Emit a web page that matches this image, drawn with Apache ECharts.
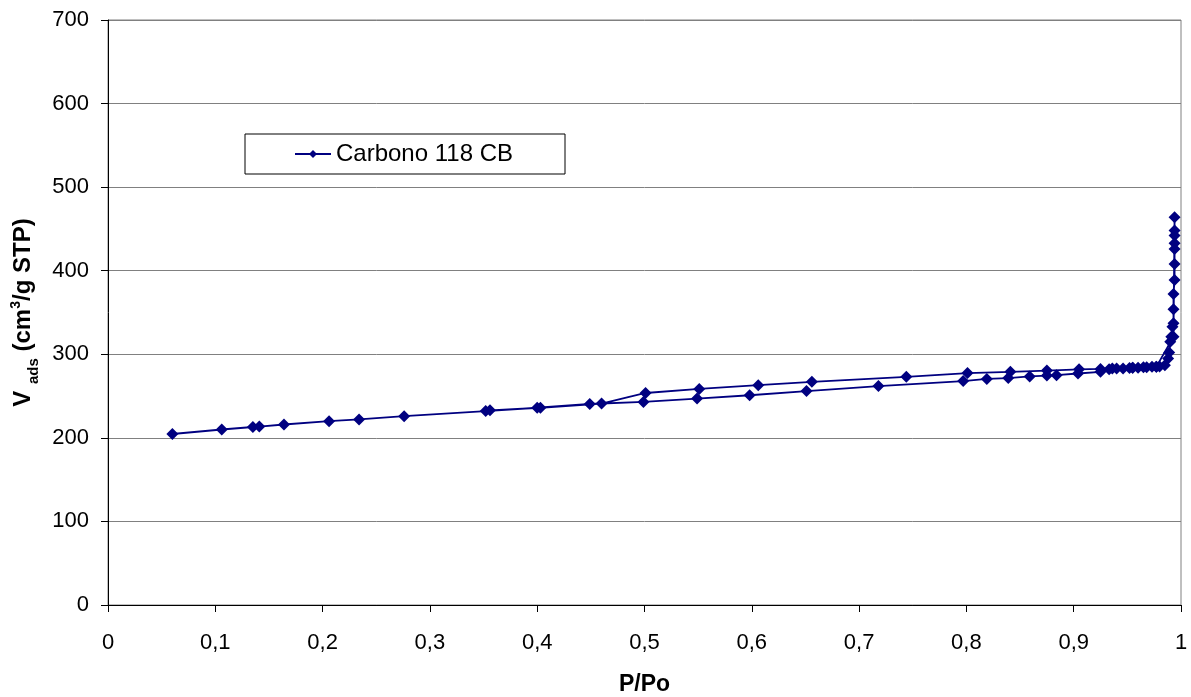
<!DOCTYPE html>
<html>
<head>
<meta charset="utf-8">
<script src="https://cdn.jsdelivr.net/npm/echarts@6/dist/echarts.min.js"></script>
<style>html,body{margin:0;padding:0;background:#fff;}#c{width:1191px;height:697px;}</style>
</head>
<body>
<div id="c"></div>
<script>
// Adsorption branch (P/Po, V ads)
const adsX = [0.060,0.106,0.135,0.141,0.164,0.206,0.234,0.276,0.352,0.400,0.449,0.499,0.549,0.598,0.651,0.718,0.797,0.819,0.839,0.859,0.875,0.884,0.904,0.925,0.933,0.940,0.946,0.952,0.955,0.960,0.965,0.968,0.973,0.977,0.980,0.985,0.988,0.989,0.990,0.991,0.992,0.993,0.993,0.993,0.994,0.994,0.994,0.994,0.994,0.994,0.994];
const adsY = [204.6,210,213,213.5,216,220,222,226,232,236,240.5,243,247,251,256,262,268,270.5,271.5,273.5,274.5,275,277,279,282,283,283,283.5,284,284,284.5,284.5,285,285,285.5,287,295,302,315,321,333,337,354,372,389,408,426,433,442,448,464];
// Desorption branch
const desX = [0.993,0.977,0.955,0.936,0.925,0.905,0.875,0.841,0.801,0.744,0.656,0.606,0.551,0.501,0.460,0.403,0.356];
const desY = [321,285,284,283,282.5,282,280.5,279,277.5,273,267,263,258.5,253.7,241,236,233];
const seriesName = 'Carbono 118 CB';
const yTicks = [0,100,200,300,400,500,600,700];
const xTicks = [0,0.1,0.2,0.3,0.4,0.5,0.6,0.7,0.8,0.9,1];

const data = [];
for (let i = 0; i < adsX.length; i++) data.push([adsX[i], adsY[i]]);
for (let i = 0; i < desX.length; i++) data.push([desX[i], desY[i]]);

const font = 'Liberation Sans, Arial, sans-serif';
const chart = echarts.init(document.getElementById('c'), null, {renderer: 'canvas'});
chart.setOption({
  animation: false,
  backgroundColor: '#ffffff',
  grid: {left: 108, right: 10, top: 20, bottom: 92, containLabel: false, outerBoundsMode: 'none',
    show: true, borderColor: '#808080', borderWidth: 1},
  legend: {
    left: 245, top: 134,
    padding: [8, 52, 8, 49],
    backgroundColor: '#ffffff', borderColor: '#000000', borderWidth: 1,
    itemWidth: 36, itemHeight: 10, itemGap: 5,
    textStyle: {fontFamily: font, fontSize: 24, color: '#000'},
    data: [seriesName]
  },
  xAxis: {
    type: 'value', min: 0, max: 1, interval: 0.1,
    name: 'P/Po', nameLocation: 'middle', nameGap: 68,
    nameTextStyle: {fontFamily: font, fontSize: 23, fontWeight: 'bold', color: '#000'},
    axisLine: {show: true, onZero: false, lineStyle: {color: '#000', width: 1}},
    axisTick: {show: true, length: 7, lineStyle: {color: '#000'}},
    axisLabel: {fontFamily: font, fontSize: 22, color: '#000', margin: 27,
      formatter: v => String(Math.round(v * 10) / 10).replace('.', ',')},
    splitLine: {show: false}
  },
  yAxis: {
    type: 'value', min: 0, max: 700, interval: 100,
    name: '{v|V }{sub|ads}{v| (cm}{sup|3}{v|/g STP)}',
    nameLocation: 'middle', nameGap: 68, nameRotate: 90,
    nameTextStyle: {
      fontFamily: font, fontSize: 24, fontWeight: 'bold', color: '#000',
      rich: {
        v: {fontFamily: font, fontSize: 24, fontWeight: 'bold', color: '#000', lineHeight: 32, verticalAlign: 'middle'},
        sub: {fontFamily: font, fontSize: 15, fontWeight: 'bold', color: '#000', lineHeight: 32, verticalAlign: 'bottom', padding: [0,0,-2,0]},
        sup: {fontFamily: font, fontSize: 14, fontWeight: 'bold', color: '#000', lineHeight: 32, verticalAlign: 'top', padding: [2,0,0,0]}
      }
    },
    axisLine: {show: true, lineStyle: {color: '#000', width: 1}},
    axisTick: {show: true, length: 7, lineStyle: {color: '#000'}},
    axisLabel: {fontFamily: font, fontSize: 22, color: '#000', margin: 19},
    splitLine: {show: true, lineStyle: {color: '#808080', width: 1}}
  },
  series: [{
    name: seriesName, type: 'line', data: data,
    symbol: 'diamond', symbolSize: 12,
    lineStyle: {color: '#000080', width: 1.8},
    itemStyle: {color: '#000080'},
    z: 5
  }]
});
</script>
</body>
</html>
